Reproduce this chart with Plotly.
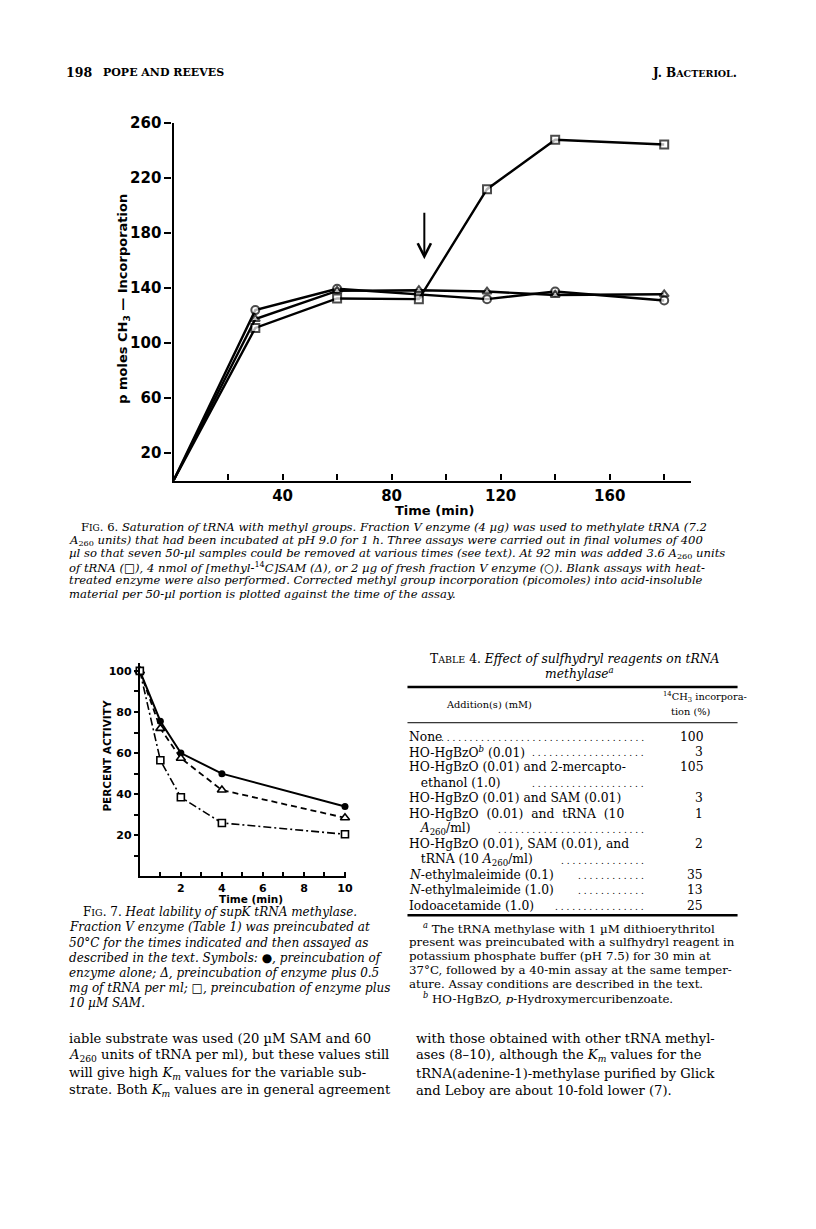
import re
import plotly.graph_objects as go

PAGE_W, PAGE_H = 816, 1229
OFF = 8                     # default body margin of the html page
FW, FH = PAGE_W - 2 * OFF, PAGE_H - 2 * OFF
SERIF = "DejaVu Serif"
SANS = "DejaVu Sans"

# ---------------- Fig. 6 data ----------------
fig6_time = [0, 30, 60, 90, 115, 140, 180]
fig6_trna_added = [0, 111, 132.5, 132, 212, 248, 244.5]
fig6_sam_added = [0, 117.5, 138, 138.5, 137.5, 135, 135.5]
fig6_enzyme_added = [0, 124, 139.5, 135.5, 132, 137.5, 131]
fig6_arrow_time = 92
fig6_arrow_from = 196
fig6_arrow_to = 161
fig6_xticks = [20, 40, 60, 80, 100, 120, 140, 160, 180]
fig6_xlabels = ["", "40", "", "80", "", "120", "", "160", ""]
fig6_yticks = [20, 60, 100, 140, 180, 220, 260]

# ---------------- Fig. 7 data ----------------
fig7_time = [0, 1, 2, 4, 10]
fig7_enzyme_alone = [100, 75.5, 60, 50, 34]
fig7_plus_trna = [100, 72, 57.5, 42, 28.5]
fig7_plus_sam = [100, 56.5, 38.5, 26, 20.5]
fig7_xticks = [1, 2, 3, 4, 5, 6, 7, 8, 9, 10]
fig7_xlabels = ["", "2", "", "4", "", "6", "", "8", "", "10"]
fig7_yticks = [10, 20, 30, 40, 50, 60, 70, 80, 90, 100]
fig7_ylabels = ["", "20", "", "40", "", "60", "", "80", "", "100"]

# ---------------- Table 4 data ----------------
table_additions = [
    "None",
    "HO-HgBzO<sup><i>b</i></sup> (0.01)",
    "HO-HgBzO (0.01) and 2-mercapto-",
    "   ethanol (1.0)",
    "HO-HgBzO (0.01) and SAM (0.01)",
    "HO-HgBzO  (0.01)  and  tRNA  (10",
    "   <i>A</i><sub>260</sub>/ml)",
    "HO-HgBzO (0.01), SAM (0.01), and",
    "   tRNA (10 <i>A</i><sub>260</sub>/ml)",
    "<i>N</i>-ethylmaleimide (0.1)",
    "<i>N</i>-ethylmaleimide (1.0)",
    "Iodoacetamide (1.0)",
]
table_incorporation = ["100", "3", "105", "", "3", "1", "", "2", "", "35", "13", "25"]
table_leader = [True, True, False, True, False, False, True, False, True, True, True, True]

fig = go.Figure()

def px_x(x):
    return (x - OFF) / FW

def px_y(y):
    return 1 - (y - OFF) / FH

# Fig 6 traces
common6 = dict(mode="lines+markers", line=dict(color="black", width=2.4), cliponaxis=False,
               xaxis="x", yaxis="y", hoverinfo="skip")
msize6 = [0] + [8] * (len(fig6_time) - 1)
fig.add_trace(go.Scatter(x=fig6_time, y=fig6_enzyme_added, name="enzyme",
                         marker=dict(symbol="circle", size=msize6, color="white",
                                     line=dict(color="black", width=2)), **common6))
fig.add_trace(go.Scatter(x=fig6_time, y=fig6_sam_added, name="SAM",
                         marker=dict(symbol="triangle-up", size=msize6, color="white",
                                     line=dict(color="black", width=2)), **common6))
fig.add_trace(go.Scatter(x=fig6_time, y=fig6_trna_added, name="tRNA",
                         marker=dict(symbol="square", size=msize6, color="white",
                                     line=dict(color="black", width=2)), **common6))

# Fig 7 traces
common7 = dict(mode="lines+markers", cliponaxis=False, xaxis="x2", yaxis="y2", hoverinfo="skip")
fig.add_trace(go.Scatter(x=fig7_time, y=fig7_enzyme_alone, name="enzyme alone",
                         line=dict(color="black", width=2),
                         marker=dict(symbol="circle", size=7, color="black"), **common7))
fig.add_trace(go.Scatter(x=fig7_time, y=fig7_plus_trna, name="plus tRNA",
                         line=dict(color="black", width=1.8, dash="6px,4px"),
                         marker=dict(symbol="triangle-up", size=8, color="white",
                                     line=dict(color="black", width=1.6)), **common7))
fig.add_trace(go.Scatter(x=fig7_time, y=fig7_plus_sam, name="plus SAM",
                         line=dict(color="black", width=1.6, dash="8px,3px,2px,3px"),
                         marker=dict(symbol="square", size=7, color="white",
                                     line=dict(color="black", width=1.6)), **common7))

axis_common = dict(showgrid=False, zeroline=False, showline=True, linecolor="black",
                   tickcolor="black", fixedrange=True)

fig.update_layout(
    width=FW, height=FH, margin=dict(l=0, r=0, t=0, b=0),
    paper_bgcolor="white", plot_bgcolor="rgba(0,0,0,0)", showlegend=False,
    xaxis=dict(domain=[px_x(175), px_x(697.5)], range=[0, 190], anchor="y",
               tickmode="array", tickvals=fig6_xticks, ticktext=fig6_xlabels,
               ticks="inside", ticklen=6, tickwidth=2, linewidth=2.4,
               tickfont=dict(family=SANS, size=15, color="black", weight="bold"), **axis_common),
    yaxis=dict(domain=[px_y(475), px_y(115)], range=[0, 260], anchor="x",
               tickmode="array", tickvals=fig6_yticks,
               ticks="outside", ticklen=7, tickwidth=2, linewidth=2.4,
               tickfont=dict(family=SANS, size=15, color="black", weight="bold"), **axis_common),
    xaxis2=dict(domain=[px_x(141), px_x(349)], range=[0, 10.05], anchor="y2",
                tickmode="array", tickvals=fig7_xticks, ticktext=fig7_xlabels,
                ticks="inside", ticklen=4, tickwidth=1.5, linewidth=2,
                tickfont=dict(family=SANS, size=11, color="black", weight="bold"), **axis_common),
    yaxis2=dict(domain=[px_y(873.8), px_y(658.5)], range=[0, 104], anchor="x2",
                tickmode="array", tickvals=fig7_yticks, ticktext=fig7_ylabels,
                ticks="outside", ticklen=4, tickwidth=1.5, linewidth=2,
                tickfont=dict(family=SANS, size=11, color="black", weight="bold"), **axis_common),
)

anns = []

def ann(text, x, y, size, family=SERIF, xanchor="left", yanchor="middle", angle=0, weight="normal"):
    anns.append(dict(text=text, x=px_x(x), y=px_y(y), xref="paper", yref="paper",
                     xanchor=xanchor, yanchor=yanchor, showarrow=False, textangle=angle,
                     font=dict(size=size, family=family, color="black", weight=weight)))

# Arrow at time of addition
anns.append(dict(x=fig6_arrow_time, y=fig6_arrow_to, ax=fig6_arrow_time, ay=fig6_arrow_from,
                 xref="x", yref="y", axref="x", ayref="y", showarrow=True, text="",
                 arrowhead=5, arrowsize=1.3, arrowwidth=2, arrowcolor="black"))

# Header
ann("198", 64, 64, 12.5, weight="bold")
ann("POPE AND REEVES", 102, 64, 11, weight="bold")
ann("J. B<span style='font-size:9.5px'>ACTERIOL</span>.", 745, 64, 12, xanchor="right", weight="bold")

# Fig 6 axis titles
ann("Time (min)", 438, 505, 13, family=SANS, xanchor="center", weight="bold")
ann("p moles CH<sub>3</sub> — Incorporation", 125, 292, 13, family=SANS, xanchor="center",
    angle=-90, weight="bold")

# Fig 6 caption
cap6 = [
    "F<span style='font-size:9px'>IG</span>. 6. <i>Saturation of tRNA with methyl groups. Fraction V enzyme (4 µg) was used to methylate tRNA (7.2</i>",
    "<i>A</i><sub>260</sub> <i>units) that had been incubated at pH 9.0 for 1 h. Three assays were carried out in final volumes of 400</i>",
    "<i>µl so that seven 50-µl samples could be removed at various times (see text). At 92 min was added 3.6 A</i><sub>260</sub><i> units</i>",
    "<i>of tRNA (□), 4 nmol of [methyl-</i><sup>14</sup><i>C]SAM (Δ), or 2 µg of fresh fraction V enzyme (○). Blank assays with heat-</i>",
    "<i>treated enzyme were also performed. Corrected methyl group incorporation (picomoles) into acid-insoluble</i>",
    "<i>material per 50-µl portion is plotted against the time of the assay.</i>",
]
for i, line in enumerate(cap6):
    ann(line, 80 if i == 0 else 68, 522 + i * 13.4, 11.6)

# Fig 7 axis titles
ann("Time (min)", 253, 897, 10.5, family=SANS, xanchor="center", weight="bold")
ann("PERCENT ACTIVITY", 108, 752, 10.5, family=SANS, xanchor="center", angle=-90, weight="bold")

# Fig 7 caption
cap7 = [
    "F<span style='font-size:9.5px'>IG</span>. 7. <i>Heat lability of supK tRNA methylase.</i>",
    "<i>Fraction V enzyme (Table 1) was preincubated at</i>",
    "<i>50°C for the times indicated and then assayed as</i>",
    "<i>described in the text. Symbols: ●, preincubation of</i>",
    "<i>enzyme alone; Δ, preincubation of enzyme plus 0.5</i>",
    "<i>mg of tRNA per ml; □, preincubation of enzyme plus</i>",
    "<i>10 µM SAM.</i>",
]
for i, line in enumerate(cap7):
    ann(line, 82 if i == 0 else 68, 910 + i * 15.3, 12)

# Body text
body_left = [
    "iable substrate was used (20 µM SAM and 60",
    "<i>A</i><sub>260</sub> units of tRNA per ml), but these values still",
    "will give high <i>K</i><sub><i>m</i></sub> values for the variable sub-",
    "strate. Both <i>K</i><sub><i>m</i></sub> values are in general agreement",
]
body_right = [
    "with those obtained with other tRNA methyl-",
    "ases (8–10), although the <i>K</i><sub><i>m</i></sub> values for the",
    "tRNA(adenine-1)-methylase purified by Glick",
    "and Leboy are about 10-fold lower (7).",
]
for i, line in enumerate(body_left):
    ann(line, 68, 1037 + i * 17.5, 13.1)
for i, line in enumerate(body_right):
    ann(line, 418, 1037 + i * 17.5, 13.1)

# Table 4
ann("T<span style='font-size:9.5px'>ABLE</span> 4. <i>Effect of sulfhydryl reagents on tRNA</i>", 580, 655, 12.3, xanchor="center")
ann("<i>methylase</i><sup><i>a</i></sup>", 585, 669, 12.3, xanchor="center")
ann("Addition(s) (mM)", 493, 701, 9.8, xanchor="center")
ann("<sup>14</sup>CH<sub>3</sub> incorpora-", 667, 693, 9.8)
ann("tion (%)", 697, 708, 9.8, xanchor="center")

def strip(s):
    return re.sub(r"<[^>]+>", "", s)

row_y0 = 733
row_dy = 15.5
for i, (lab, val, lead) in enumerate(zip(table_additions, table_incorporation, table_leader)):
    y = row_y0 + i * row_dy
    ann(lab, 411, y, 12.3)
    if val:
        ann(val, 711, y, 12.3, xanchor="right")
    if lead:
        est = len(strip(lab)) * 7.3
        start = 411 + est + 10
        n = max(int((652 - start) / 5.6), 0)
        ann(" ".join(["."] * n), 652, y + 1, 9, xanchor="right")

# Table rules
shapes = [
    dict(type="line", xref="paper", yref="paper", x0=px_x(411), x1=px_x(744), y0=px_y(683), y1=px_y(683),
         line=dict(color="black", width=2.5)),
    dict(type="line", xref="paper", yref="paper", x0=px_x(411), x1=px_x(744), y0=px_y(719), y1=px_y(719),
         line=dict(color="black", width=1)),
    dict(type="line", xref="paper", yref="paper", x0=px_x(411), x1=px_x(744), y0=px_y(913), y1=px_y(913),
         line=dict(color="black", width=2.5)),
]

# Footnotes
foot = [
    ("<sup><i>a</i></sup> The tRNA methylase with 1 µM dithioerythritol", 425),
    ("present was preincubated with a sulfhydryl reagent in", 411),
    ("potassium phosphate buffer (pH 7.5) for 30 min at", 411),
    ("37°C, followed by a 40-min assay at the same temper-", 411),
    ("ature. Assay conditions are described in the text.", 411),
    ("<sup><i>b</i></sup> HO-HgBzO, <i>p</i>-Hydroxymercuribenzoate.", 425),
]
for i, (line, x) in enumerate(foot):
    ann(line, x, 926 + i * 14, 11.8)

fig.update_layout(annotations=anns, shapes=shapes)
fig.write_html("out.html")
